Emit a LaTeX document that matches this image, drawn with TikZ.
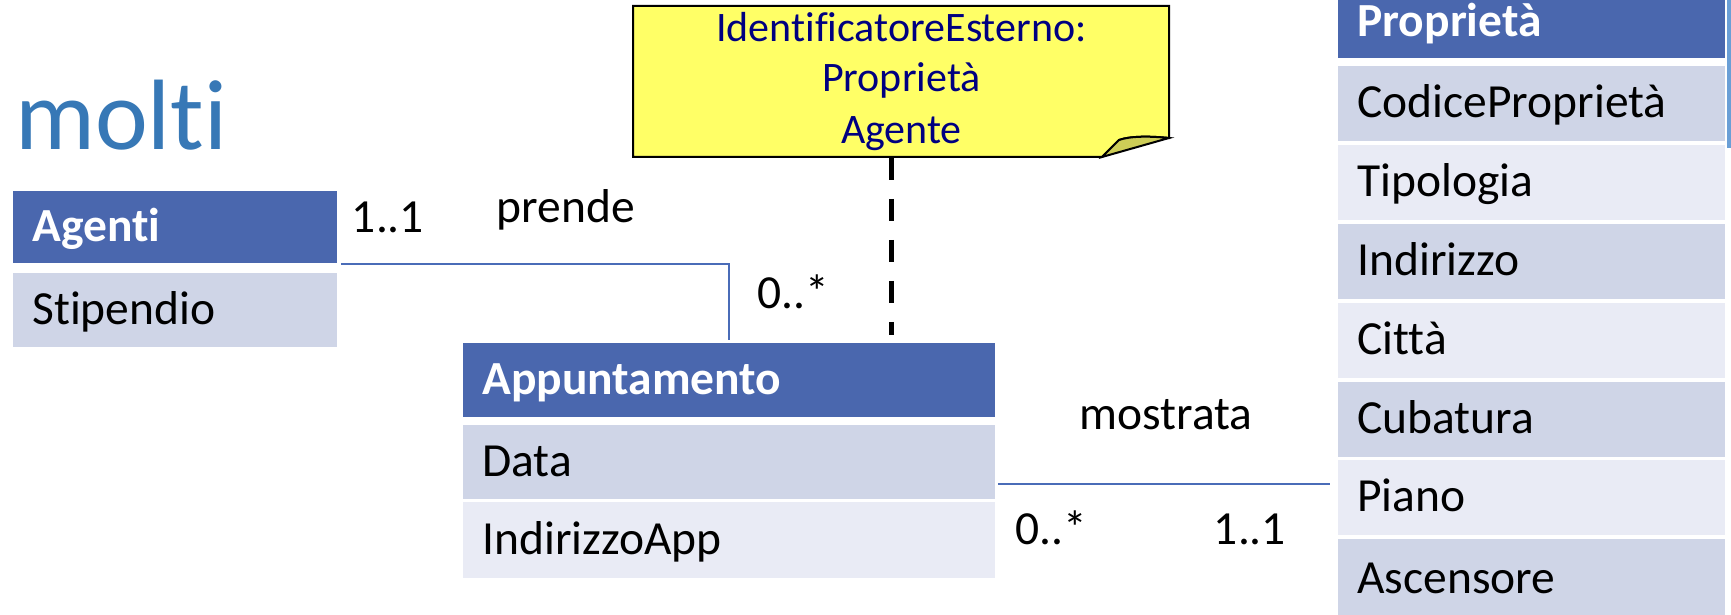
\documentclass[tikz,border=0pt]{standalone}
\usepackage{fontspec}
\setmainfont{Carlito}[Ligatures=NoCommon]
\definecolor{hdrblue}{HTML}{4A67AE}
\definecolor{rowdark}{HTML}{CFD5E7}
\definecolor{rowlight}{HTML}{E9EBF5}
\definecolor{linkblue}{HTML}{4A6CB8}
\definecolor{titleblue}{HTML}{3778B6}
\definecolor{notefill}{HTML}{FFFF66}
\definecolor{notefold}{HTML}{CDCD57}
\definecolor{notetext}{HTML}{000080}
\definecolor{sliver}{HTML}{6A9FD6}
\begin{document}
\begin{tikzpicture}[x=0.5pt,y=-0.5pt,
  every node/.style={inner sep=0pt},
  cell/.style={anchor=north west, inner xsep=9.5pt, inner ysep=0pt,
    text height=18.5pt, text depth=4.5pt, align=left,
    font=\fontsize{23.75}{28}\selectfont},
  hdr/.style={cell, fill=hdrblue, text=white, font=\bfseries\fontsize{23.75}{28}\selectfont},
  dark/.style={cell, fill=rowdark},
  light/.style={cell, fill=rowlight},
  mult/.style={anchor=base, font=\fontsize{23.75}{28}\selectfont},
  assoc/.style={draw=linkblue, line width=1pt},
  idline/.style={draw=black, line width=2.5pt, dash pattern=on 11pt off 9.5pt},
]
\useasboundingbox (0,0) rectangle (1731,615);
\clip (0,0) rectangle (1731,615);

% title
\node[anchor=base west, font=\fontsize{50}{60}\selectfont, text=titleblue] (title) at (15,149) {molti};

% Agenti
\node[hdr, text width=143pt, minimum height=36pt] (agh) at (13,191) {Agenti};
\node[dark, text width=143pt, minimum height=37pt] (ag1) at (13,273) {Stipendio};

% Appuntamento
\node[hdr, text width=247pt, minimum height=37pt] (aph) at (463,343) {Appuntamento};
\node[dark, text width=247pt, minimum height=37pt] (ap1) at (463,425) {Data};
\node[light, text width=247pt, minimum height=38pt] (ap2) at (463,502) {IndirizzoApp};

% Proprieta
\node[hdr, text width=174.5pt, minimum height=36pt] (prh) at (1338,-14) {Proprietà};
\node[dark, text width=174.5pt, minimum height=37.5pt] (pr1) at (1338,66) {CodiceProprietà};
\node[light, text width=174.5pt, minimum height=37.5pt] (pr2) at (1338,144.8) {Tipologia};
\node[dark, text width=174.5pt, minimum height=37.5pt] (pr3) at (1338,223.6) {Indirizzo};
\node[light, text width=174.5pt, minimum height=37.5pt] (pr4) at (1338,302.4) {Città};
\node[dark, text width=174.5pt, minimum height=37.5pt] (pr5) at (1338,381.2) {Cubatura};
\node[light, text width=174.5pt, minimum height=37.5pt] (pr6) at (1338,460) {Piano};
\node[dark, text width=174.5pt, minimum height=40pt] (pr7) at (1338,538.8) {Ascensore};

% sliver at right edge
\fill[sliver] (1727,0) rectangle (1731,148);

% note
\path[draw=black, line width=1pt, fill=notefill]
  (633,6) -- (1169,6) -- (1169,138) .. controls (1150,136) and (1130,136) .. (1119,140)
  -- (1102,157) -- (633,157) -- cycle;
\path[draw=black, line width=1pt, fill=notefold]
  (1102,157) -- (1119,140) .. controls (1130,136) and (1150,136) .. (1169,138) -- cycle;
\node[anchor=north west, minimum width=268pt, minimum height=75.5pt, align=center,
  font=\fontsize{21}{25}\selectfont, text=notetext] (note) at (633,6)
  {\strut IdentificatoreEsterno:\\\strut Proprietà\\\rule[-11.5pt]{0pt}{29pt}Agente};

% connectors
\draw[assoc, shorten >=1.5pt] ([xshift=1.5pt]agh.south east) -| (aph.north);
\draw[assoc, shorten >=4pt] ([xshift=1pt,yshift=-11pt]ap1.east) -- ([yshift=-11pt]ap1.east -| pr6.west);
\draw[idline] ([xshift=-5pt,yshift=4.5pt]note.south) -- ([xshift=-5pt,yshift=4pt]note.south |- aph.north);

% labels
\node[mult] (m1) at (388,233) {1..1};
\node[mult] (rel1) at (566,222) {prende};
\node[mult] (m2) at (793,308) {0..*};
\node[mult] (rel2) at (1166,429) {mostrata};
\node[mult] (m3) at (1051,544) {0..*};
\node[mult] (m4) at (1250,544) {1..1};
\end{tikzpicture}
\end{document}
